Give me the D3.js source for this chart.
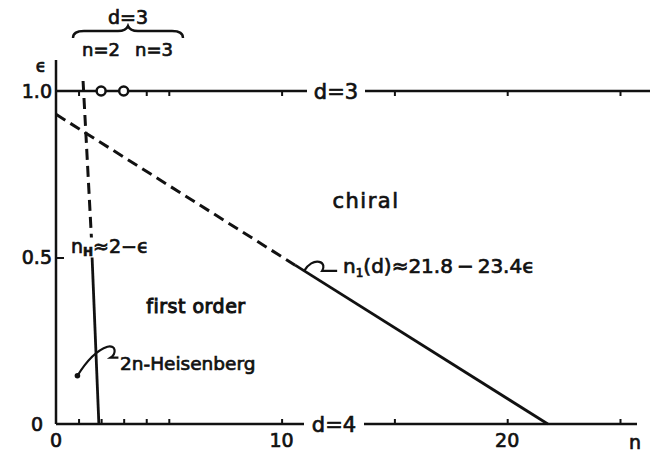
<!DOCTYPE html>
<html>
<head>
<meta charset="utf-8">
<script src="https://cdn.jsdelivr.net/npm/d3@7"></script>
<style>
  html, body { margin: 0; padding: 0; background: #fff; }
  svg { display: block; }
  text { font-family: "DejaVu Sans", sans-serif; fill: #111; stroke: #111; stroke-width: 0.7px; }
</style>
</head>
<body>
<svg id="chart" width="654" height="459"></svg>
<script>
// Phase diagram in the (n, epsilon) plane, epsilon = 4 - d
const nTicks = [1, 2, 3, 4, 5, 10, 15, 20, 25];
const nLabels = [0, 10, 20];
const epsLabels = [0.5, 1.0];
const epsLabelText = ["0.5", "1.0"];

// n_H boundary (dashed above, solid below the label)
const nHDashed = [[1.2, 1.03], [1.57, 0.56]];
const nHSolid = [[1.6, 0.5], [1.9, 0]];

// n_1(d) ~ 21.8 - 23.4 eps (dashed upper part, solid lower part)
const n1Dashed = [[0, 0.93], [10.6, 0.477]];
const n1Solid = [[10.6, 0.477], [21.8, 0]];

// d = 3 estimates at n = 2 and n = 3 (open circles)
const d3Points = [2, 3];
// 2n-Heisenberg point
const heisPoint = [0.95, 0.145];

const svg = d3.select("#chart");
const x = d3.scaleLinear().domain([0, 25]).range([56, 620]);
const y = d3.scaleLinear().domain([0, 1]).range([424, 91]);
const ink = "#111";
const EPS = "\u03f5";

const line = d3.line().x(d => x(d[0])).y(d => y(d[1]));

// bottom axis (d = 4), ticks pointing up
const axisD4 = svg.append("g").attr("transform", `translate(0,${y(0)})`)
  .call(d3.axisBottom(x).tickValues(nTicks).tickSize(-5).tickFormat(""));
axisD4.select(".domain").remove();
axisD4.selectAll("line").attr("stroke", ink).attr("stroke-width", 2);
svg.append("line").attr("x1", x(0)).attr("x2", 637).attr("y1", y(0)).attr("y2", y(0))
  .attr("stroke", ink).attr("stroke-width", 2.5);

// top line (d = 3), ticks pointing down
const axisD3 = svg.append("g").attr("transform", `translate(0,${y(1)})`)
  .call(d3.axisBottom(x).tickValues(nTicks).tickSize(5).tickFormat(""));
axisD3.select(".domain").remove();
axisD3.selectAll("line").attr("stroke", ink).attr("stroke-width", 2);
svg.append("line").attr("x1", x(0)).attr("x2", 650).attr("y1", y(1)).attr("y2", y(1))
  .attr("stroke", ink).attr("stroke-width", 2.5);

// left axis
svg.append("line").attr("x1", x(0)).attr("x2", x(0)).attr("y1", 60).attr("y2", y(0))
  .attr("stroke", ink).attr("stroke-width", 2.5);
const axisEps = svg.append("g").attr("transform", `translate(${x(0)},0)`)
  .call(d3.axisLeft(y).tickValues([0.5]).tickSize(-8).tickFormat(""));
axisEps.select(".domain").remove();
axisEps.selectAll("line").attr("stroke", ink).attr("stroke-width", 2);

// tick labels
svg.selectAll(".ylab").data(epsLabels).enter().append("text")
  .attr("x", x(0) - 4).attr("y", d => y(d)).attr("dy", "0.36em")
  .attr("text-anchor", "end").attr("font-size", 19).text((d, i) => epsLabelText[i]);
svg.append("text").attr("x", x(0) - 13).attr("y", y(0)).attr("dy", "0.36em")
  .attr("text-anchor", "end").attr("font-size", 19).text("0");
svg.selectAll(".xlab").data(nLabels).enter().append("text")
  .attr("x", d => x(d)).attr("y", y(0) + 23)
  .attr("text-anchor", "middle").attr("font-size", 19).text(d => d);
svg.append("text").attr("x", 635).attr("y", y(0) + 25)
  .attr("text-anchor", "middle").attr("font-size", 19).text("n");
svg.append("text").attr("x", 41).attr("y", 72)
  .attr("text-anchor", "middle").attr("font-size", 17).text(EPS);

// line labels with white backing
function lineLabel(txt, cx, cy, size, w) {
  svg.append("rect").attr("x", cx - w / 2).attr("y", cy - 8).attr("width", w).attr("height", 16)
    .attr("fill", "#fff");
  svg.append("text").attr("x", cx).attr("y", cy).attr("dy", "0.36em")
    .attr("text-anchor", "middle").attr("font-size", size).text(txt);
}
lineLabel("d=3", 336, y(1), 21, 58);
lineLabel("d=4", 334, y(0), 21, 60);

// boundaries
svg.append("path").attr("d", line(nHDashed)).attr("fill", "none")
  .attr("stroke", ink).attr("stroke-width", 3).attr("stroke-dasharray", "11,6");
svg.append("path").attr("d", line(nHSolid)).attr("fill", "none")
  .attr("stroke", ink).attr("stroke-width", 2.8);
svg.append("path").attr("d", line(n1Dashed)).attr("fill", "none")
  .attr("stroke", ink).attr("stroke-width", 3).attr("stroke-dasharray", "11,6");
svg.append("path").attr("d", line(n1Solid)).attr("fill", "none")
  .attr("stroke", ink).attr("stroke-width", 2.8);

// d = 3 open circles
svg.selectAll(".pt").data(d3Points).enter().append("circle")
  .attr("cx", d => x(d)).attr("cy", y(1)).attr("r", 4.5)
  .attr("fill", "#fff").attr("stroke", ink).attr("stroke-width", 2.5);

// 2n-Heisenberg point and leader
const hx = x(heisPoint[0]), hy = y(heisPoint[1]);
svg.append("circle").attr("cx", hx).attr("cy", hy).attr("r", 2.8).attr("fill", ink);
svg.append("path")
  .attr("d", `M${hx},${hy} C${hx + 8},${hy - 13} ${hx + 18},${hy - 25} ${hx + 30},${hy - 29}
              C${hx + 39},${hy - 31} ${hx + 39},${hy - 22} ${hx + 33},${hy - 18} L${hx + 41},${hy - 18}`)
  .attr("fill", "none").attr("stroke", ink).attr("stroke-width", 2.2);
svg.append("text").attr("x", 120).attr("y", 370).attr("font-size", 18.5).text("2n-Heisenberg");

// n_1 leader from the boundary
const lx = x(11.0), ly = y(0.93 - 11.0 / 23.4);
svg.append("path")
  .attr("d", `M${lx},${ly} C${lx + 4},${ly - 7} ${lx + 10},${ly - 10} ${lx + 15},${ly - 9}
              C${lx + 20},${ly - 8} ${lx + 20},${ly - 3} ${lx + 18},${ly} L${lx + 33},${ly}`)
  .attr("fill", "none").attr("stroke", ink).attr("stroke-width", 2.2);

// formula labels
const t1 = svg.append("text").attr("x", 343).attr("y", 273).attr("font-size", 20);
t1.append("tspan").text("n");
t1.append("tspan").attr("font-size", 12).attr("dy", 4).text("1");
t1.append("tspan").attr("dy", -4).text("(d)\u224821.8\u2009\u2212\u200923.4" + EPS);

const t2 = svg.append("text").attr("x", 71).attr("y", 253).attr("font-size", 19);
t2.append("tspan").text("n");
t2.append("tspan").attr("font-size", 12).attr("font-weight", "bold").attr("dy", 3).text("H");
t2.append("tspan").attr("dy", -3).text("\u22482\u2212" + EPS);

// region names
svg.append("text").attr("x", 366).attr("y", 208).attr("text-anchor", "middle")
  .attr("font-size", 21).attr("letter-spacing", 1.5).text("chiral");
svg.append("text").attr("x", 196).attr("y", 313).attr("text-anchor", "middle")
  .attr("font-size", 19).attr("letter-spacing", 0.5)
  .style("stroke-width", "1px").text("first order");

// d = 3 brace over n = 2, 3
svg.append("text").attr("x", 128).attr("y", 24).attr("text-anchor", "middle")
  .attr("font-size", 19).text("d=3");
svg.append("path")
  .attr("d", "M73,38 Q73,31 84,31 L118,31 Q126,31 128,26 Q130,31 138,31 L172,31 Q183,31 183,38")
  .attr("fill", "none").attr("stroke", ink).attr("stroke-width", 2.4);
svg.append("text").attr("x", 82).attr("y", 56).attr("font-size", 18).text("n=2");
svg.append("text").attr("x", 135).attr("y", 56).attr("font-size", 18).text("n=3");
</script>
</body>
</html>
